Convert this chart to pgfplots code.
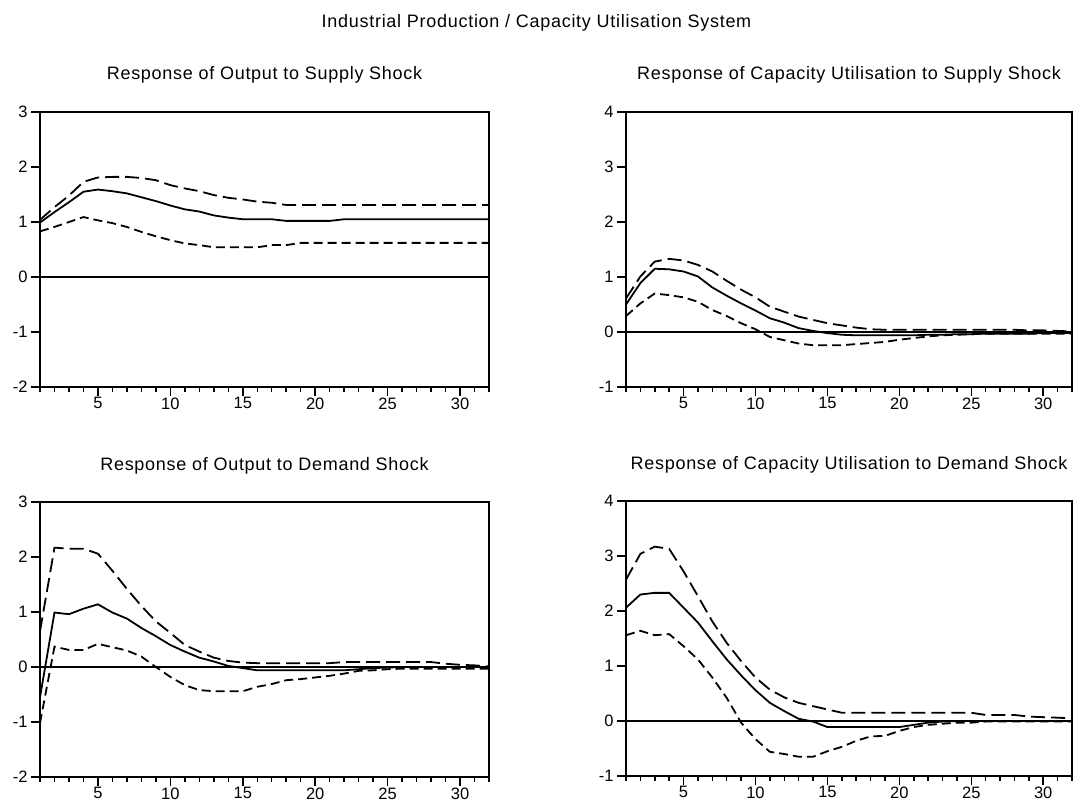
\documentclass[border=0pt]{standalone}
\usepackage{fontspec}
\setmainfont{Liberation Sans}
\newfontfamily\titlefont[LetterSpace=4]{Liberation Sans}
\usepackage{pgfplots}
\pgfplotsset{compat=1.18}

\pgfplotsset{
  irf/.style={
    scale only axis,
    width=449pt, height=275pt,
    xmin=1, xmax=32,
    xtick={5,10,15,20,25,30},
    minor xtick={1,...,32},
    xtick pos=left, ytick pos=left,
    tick align=outside,
    major tick length=9pt, minor tick length=5pt,
    every tick/.style={black, line width=1.5pt},
    axis line style={line width=2pt},
    ticklabel style={font=\fontsize{16.5}{19}\selectfont},
    xticklabel style={yshift=2pt},
    /pgf/number format/assume math mode=true,
    title style={font=\titlefont\fontsize{18}{21}\selectfont, anchor=base, at={(0.5,1)}, yshift=26pt},
    clip=true,
  },
  mid/.style={black, line width=1.8pt},
  upr/.style={black, line width=1.8pt, dash pattern=on 14pt off 6pt},
  lwr/.style={black, line width=1.8pt, dash pattern=on 9pt off 5pt},
  zer/.style={black, line width=1.5pt},
}

\begin{document}
\begin{tikzpicture}[x=1pt,y=1pt]
\useasboundingbox (0,0) rectangle (1073,801);
\node[font=\titlefont\fontsize{18}{21}\selectfont, anchor=base] at (536.5,773) {Industrial Production / Capacity Utilisation System};

% top left
\begin{axis}[irf, at={(40pt,414pt)}, anchor=south west,
  ymin=-2, ymax=3, ytick={-2,-1,0,1,2,3},
  title={Response of Output to Supply Shock}]
\addplot[zer] coordinates {(1,0) (32,0)};
\addplot[mid] coordinates {(1,0.99)(2,1.18)(3,1.36)(4,1.55)(5,1.59)(6,1.56)(7,1.52)(8,1.45)(9,1.38)(10,1.30)(11,1.23)(12,1.19)(13,1.12)(14,1.08)(15,1.05)(16,1.05)(17,1.05)(18,1.02)(19,1.02)(20,1.02)(21,1.02)(22,1.05)(23,1.05)(24,1.05)(25,1.05)(26,1.05)(27,1.05)(28,1.05)(29,1.05)(30,1.05)(31,1.05)(32,1.05)};
\addplot[upr] coordinates {(1,1.04)(2,1.27)(3,1.48)(4,1.73)(5,1.81)(6,1.82)(7,1.82)(8,1.80)(9,1.76)(10,1.67)(11,1.61)(12,1.56)(13,1.49)(14,1.44)(15,1.41)(16,1.37)(17,1.35)(18,1.31)(19,1.31)(20,1.31)(21,1.31)(22,1.31)(23,1.31)(24,1.31)(25,1.31)(26,1.31)(27,1.31)(28,1.31)(29,1.31)(30,1.31)(31,1.31)(32,1.31)};
\addplot[lwr] coordinates {(1,0.83)(2,0.91)(3,1.00)(4,1.09)(5,1.03)(6,0.98)(7,0.91)(8,0.82)(9,0.74)(10,0.67)(11,0.61)(12,0.58)(13,0.54)(14,0.54)(15,0.54)(16,0.54)(17,0.58)(18,0.58)(19,0.62)(20,0.62)(21,0.62)(22,0.62)(23,0.62)(24,0.62)(25,0.62)(26,0.62)(27,0.62)(28,0.62)(29,0.62)(30,0.62)(31,0.62)(32,0.62)};
\end{axis}

% top right
\begin{axis}[irf, width=446pt, at={(626pt,414pt)}, anchor=south west,
  ymin=-1, ymax=4, ytick={-1,0,1,2,3,4},
  title={Response of Capacity Utilisation to Supply Shock}]
\addplot[zer] coordinates {(1,0) (32,0)};
\addplot[mid] coordinates {(1,0.50)(2,0.89)(3,1.15)(4,1.14)(5,1.10)(6,1.01)(7,0.81)(8,0.66)(9,0.52)(10,0.39)(11,0.25)(12,0.17)(13,0.07)(14,0.02)(15,-0.02)(16,-0.05)(17,-0.06)(18,-0.06)(19,-0.06)(20,-0.06)(21,-0.06)(22,-0.05)(23,-0.05)(24,-0.04)(25,-0.04)(26,-0.03)(27,-0.03)(28,-0.03)(29,-0.03)(30,-0.02)(31,-0.02)(32,-0.02)};
\addplot[upr] coordinates {(1,0.61)(2,1.01)(3,1.28)(4,1.33)(5,1.30)(6,1.22)(7,1.10)(8,0.93)(9,0.77)(10,0.63)(11,0.46)(12,0.37)(13,0.28)(14,0.22)(15,0.16)(16,0.12)(17,0.08)(18,0.05)(19,0.04)(20,0.04)(21,0.04)(22,0.04)(23,0.04)(24,0.04)(25,0.04)(26,0.04)(27,0.04)(28,0.04)(29,0.03)(30,0.03)(31,0.02)(32,0.01)};
\addplot[lwr] coordinates {(1,0.29)(2,0.52)(3,0.70)(4,0.67)(5,0.63)(6,0.55)(7,0.40)(8,0.29)(9,0.16)(10,0.05)(11,-0.09)(12,-0.15)(13,-0.21)(14,-0.24)(15,-0.24)(16,-0.24)(17,-0.22)(18,-0.20)(19,-0.18)(20,-0.14)(21,-0.11)(22,-0.08)(23,-0.06)(24,-0.05)(25,-0.04)(26,-0.03)(27,-0.03)(28,-0.03)(29,-0.03)(30,-0.03)(31,-0.03)(32,-0.03)};
\end{axis}

% bottom left
\begin{axis}[irf, at={(40pt,24pt)}, anchor=south west,
  ymin=-2, ymax=3, ytick={-2,-1,0,1,2,3},
  title={Response of Output to Demand Shock}]
\addplot[zer] coordinates {(1,0) (32,0)};
\addplot[mid] coordinates {(1,-0.55)(2,0.99)(3,0.96)(4,1.06)(5,1.14)(6,0.99)(7,0.88)(8,0.71)(9,0.56)(10,0.40)(11,0.28)(12,0.17)(13,0.10)(14,0.02)(15,-0.02)(16,-0.06)(17,-0.06)(18,-0.06)(19,-0.06)(20,-0.06)(21,-0.06)(22,-0.06)(23,-0.04)(24,-0.02)(25,-0.01)(26,0.00)(27,0.00)(28,0.00)(29,0.00)(30,0.00)(31,0.00)(32,0.00)};
\addplot[upr] coordinates {(1,0.65)(2,2.17)(3,2.15)(4,2.15)(5,2.06)(6,1.75)(7,1.42)(8,1.11)(9,0.83)(10,0.62)(11,0.40)(12,0.28)(13,0.17)(14,0.11)(15,0.08)(16,0.07)(17,0.07)(18,0.07)(19,0.07)(20,0.07)(21,0.07)(22,0.09)(23,0.09)(24,0.09)(25,0.09)(26,0.09)(27,0.09)(28,0.09)(29,0.06)(30,0.04)(31,0.03)(32,0.01)};
\addplot[lwr] coordinates {(1,-1.02)(2,0.37)(3,0.31)(4,0.31)(5,0.42)(6,0.36)(7,0.30)(8,0.19)(9,0.00)(10,-0.18)(11,-0.33)(12,-0.42)(13,-0.44)(14,-0.44)(15,-0.44)(16,-0.36)(17,-0.31)(18,-0.24)(19,-0.22)(20,-0.19)(21,-0.16)(22,-0.12)(23,-0.07)(24,-0.06)(25,-0.04)(26,-0.03)(27,-0.03)(28,-0.03)(29,-0.03)(30,-0.03)(31,-0.03)(32,-0.03)};
\end{axis}

% bottom right
\begin{axis}[irf, width=446pt, at={(626pt,25pt)}, anchor=south west,
  ymin=-1, ymax=4, ytick={-1,0,1,2,3,4},
  title={Response of Capacity Utilisation to Demand Shock}]
\addplot[zer] coordinates {(1,0) (32,0)};
\addplot[mid] coordinates {(1,2.06)(2,2.30)(3,2.33)(4,2.33)(5,2.06)(6,1.79)(7,1.45)(8,1.12)(9,0.83)(10,0.56)(11,0.33)(12,0.18)(13,0.04)(14,-0.01)(15,-0.11)(16,-0.11)(17,-0.11)(18,-0.11)(19,-0.11)(20,-0.11)(21,-0.07)(22,-0.03)(23,-0.01)(24,0.00)(25,0.00)(26,0.00)(27,0.00)(28,0.00)(29,0.00)(30,0.00)(31,0.00)(32,0.00)};
\addplot[upr] coordinates {(1,2.57)(2,3.04)(3,3.17)(4,3.13)(5,2.72)(6,2.27)(7,1.81)(8,1.42)(9,1.09)(10,0.79)(11,0.57)(12,0.43)(13,0.33)(14,0.27)(15,0.21)(16,0.15)(17,0.15)(18,0.15)(19,0.15)(20,0.15)(21,0.15)(22,0.15)(23,0.15)(24,0.15)(25,0.15)(26,0.11)(27,0.11)(28,0.11)(29,0.08)(30,0.07)(31,0.06)(32,0.05)};
\addplot[lwr] coordinates {(1,1.56)(2,1.64)(3,1.56)(4,1.58)(5,1.36)(6,1.12)(7,0.79)(8,0.42)(9,-0.03)(10,-0.33)(11,-0.56)(12,-0.60)(13,-0.65)(14,-0.65)(15,-0.55)(16,-0.47)(17,-0.36)(18,-0.28)(19,-0.27)(20,-0.18)(21,-0.11)(22,-0.07)(23,-0.05)(24,-0.03)(25,-0.03)(26,-0.01)(27,-0.01)(28,-0.01)(29,-0.01)(30,-0.01)(31,-0.01)(32,-0.01)};
\end{axis}
\end{tikzpicture}
\end{document}
